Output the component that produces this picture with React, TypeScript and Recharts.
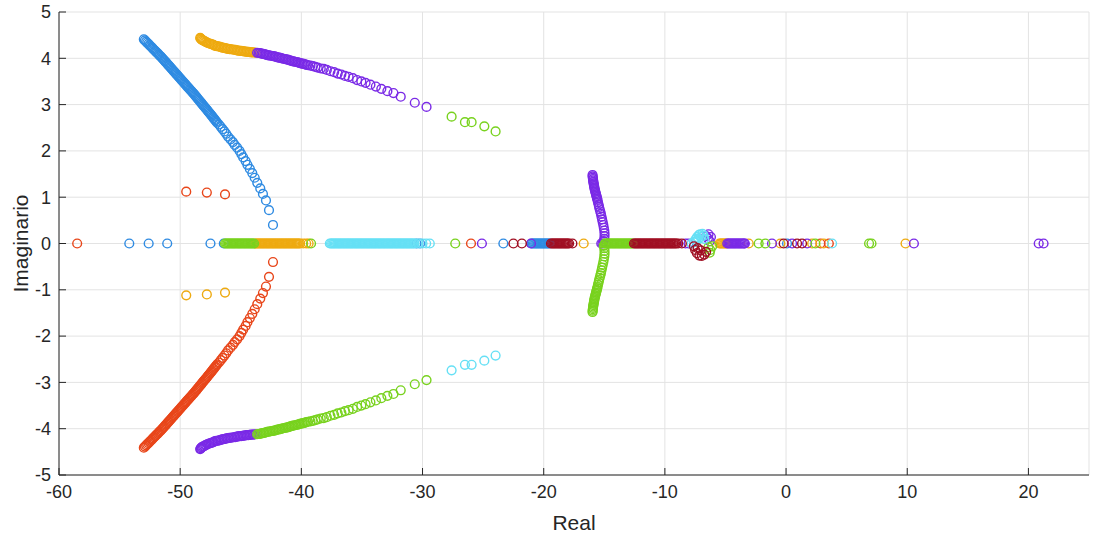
import { CartesianGrid, Label, Scatter, ScatterChart, XAxis, YAxis } from "recharts";

type Pt = [number, number];

const X_TICKS = [-60, -50, -40, -30, -20, -10, 0, 10, 20];
const Y_TICKS = [-5, -4, -3, -2, -1, 0, 1, 2, 3, 4, 5];

const BLUE = "#2F8BE2";
const RED = "#E8461A";
const YELLOW = "#EEAA10";
const PURPLE = "#7A2AE6";
const GREEN = "#78D21E";
const CYAN = "#66E0F5";
const DARKRED = "#A00F23";
const AXIS = "#262626";

// upper-left branch (blue) and its conjugate (red)
const blueArc: Pt[] = [
  [-53.0, 4.41], [-52.91, 4.385], [-52.81, 4.36], [-52.72, 4.335], [-52.62, 4.31], [-52.53, 4.285],
  [-52.44, 4.26], [-52.34, 4.235], [-52.25, 4.21], [-52.16, 4.185], [-52.06, 4.16], [-51.97, 4.135],
  [-51.87, 4.11], [-51.78, 4.085], [-51.69, 4.06], [-51.59, 4.035], [-51.5, 4.01], [-51.42, 3.985],
  [-51.33, 3.96], [-51.25, 3.935], [-51.16, 3.91], [-51.08, 3.885], [-50.99, 3.86], [-50.91, 3.835],
  [-50.82, 3.81], [-50.74, 3.785], [-50.66, 3.76], [-50.57, 3.735], [-50.49, 3.71], [-50.4, 3.685],
  [-50.32, 3.66], [-50.23, 3.635], [-50.15, 3.61], [-50.07, 3.585], [-49.98, 3.56], [-49.9, 3.535],
  [-49.81, 3.51], [-49.73, 3.485], [-49.64, 3.46], [-49.56, 3.435], [-49.48, 3.41], [-49.39, 3.385],
  [-49.31, 3.36], [-49.22, 3.335], [-49.14, 3.31], [-49.05, 3.285], [-48.97, 3.26], [-48.88, 3.235],
  [-48.8, 3.21], [-48.72, 3.185], [-48.64, 3.16], [-48.57, 3.135], [-48.49, 3.11], [-48.41, 3.085],
  [-48.33, 3.06], [-48.25, 3.035], [-48.18, 3.01], [-48.1, 2.985], [-48.02, 2.96], [-47.94, 2.935],
  [-47.86, 2.91], [-47.78, 2.885], [-47.71, 2.86], [-47.63, 2.835], [-47.55, 2.81], [-47.47, 2.785],
  [-47.4, 2.76], [-47.32, 2.735], [-47.25, 2.71], [-47.17, 2.685], [-47.1, 2.66], [-47.02, 2.635],
  [-46.95, 2.61], [-46.8, 2.57], [-46.65, 2.52], [-46.5, 2.47], [-46.35, 2.42], [-46.2, 2.37],
  [-46.05, 2.31], [-45.85, 2.25], [-45.65, 2.19], [-45.5, 2.13], [-45.3, 2.07], [-45.1, 2.0],
  [-44.95, 1.93], [-44.8, 1.86], [-44.6, 1.78], [-44.45, 1.7], [-44.25, 1.61], [-44.05, 1.52],
  [-43.85, 1.42], [-43.64, 1.31], [-43.39, 1.19], [-43.17, 1.07], [-42.92, 0.93], [-42.67, 0.72],
  [-42.34, 0.4],
];
const redArc: Pt[] = [
  [-53.0, -4.41], [-52.91, -4.385], [-52.81, -4.36], [-52.72, -4.335], [-52.62, -4.31], [-52.53, -4.285],
  [-52.44, -4.26], [-52.34, -4.235], [-52.25, -4.21], [-52.16, -4.185], [-52.06, -4.16], [-51.97, -4.135],
  [-51.87, -4.11], [-51.78, -4.085], [-51.69, -4.06], [-51.59, -4.035], [-51.5, -4.01], [-51.42, -3.985],
  [-51.33, -3.96], [-51.25, -3.935], [-51.16, -3.91], [-51.08, -3.885], [-50.99, -3.86], [-50.91, -3.835],
  [-50.82, -3.81], [-50.74, -3.785], [-50.66, -3.76], [-50.57, -3.735], [-50.49, -3.71], [-50.4, -3.685],
  [-50.32, -3.66], [-50.23, -3.635], [-50.15, -3.61], [-50.07, -3.585], [-49.98, -3.56], [-49.9, -3.535],
  [-49.81, -3.51], [-49.73, -3.485], [-49.64, -3.46], [-49.56, -3.435], [-49.48, -3.41], [-49.39, -3.385],
  [-49.31, -3.36], [-49.22, -3.335], [-49.14, -3.31], [-49.05, -3.285], [-48.97, -3.26], [-48.88, -3.235],
  [-48.8, -3.21], [-48.72, -3.185], [-48.64, -3.16], [-48.57, -3.135], [-48.49, -3.11], [-48.41, -3.085],
  [-48.33, -3.06], [-48.25, -3.035], [-48.18, -3.01], [-48.1, -2.985], [-48.02, -2.96], [-47.94, -2.935],
  [-47.86, -2.91], [-47.78, -2.885], [-47.71, -2.86], [-47.63, -2.835], [-47.55, -2.81], [-47.47, -2.785],
  [-47.4, -2.76], [-47.32, -2.735], [-47.25, -2.71], [-47.17, -2.685], [-47.1, -2.66], [-47.02, -2.635],
  [-46.95, -2.61], [-46.8, -2.57], [-46.65, -2.52], [-46.5, -2.47], [-46.35, -2.42], [-46.2, -2.37],
  [-46.05, -2.31], [-45.85, -2.25], [-45.65, -2.19], [-45.5, -2.13], [-45.3, -2.07], [-45.1, -2.0],
  [-44.95, -1.93], [-44.8, -1.86], [-44.6, -1.78], [-44.45, -1.7], [-44.25, -1.61], [-44.05, -1.52],
  [-43.85, -1.42], [-43.64, -1.31], [-43.39, -1.19], [-43.17, -1.07], [-42.92, -0.93], [-42.67, -0.72],
  [-42.34, -0.4],
];

// top band (yellow) / bottom band (purple)
const yellowTop: Pt[] = [
  [-48.35, 4.44], [-48.3, 4.425], [-48.25, 4.41], [-48.2, 4.4], [-48.12, 4.385], [-48.03, 4.375],
  [-47.94, 4.36], [-47.85, 4.35], [-47.73, 4.335], [-47.61, 4.32], [-47.49, 4.31], [-47.37, 4.3],
  [-47.25, 4.29], [-47.13, 4.27], [-47.01, 4.265], [-46.89, 4.26], [-46.77, 4.25], [-46.65, 4.24],
  [-46.53, 4.23], [-46.41, 4.225], [-46.29, 4.22], [-46.17, 4.21], [-46.05, 4.205], [-45.93, 4.2],
  [-45.81, 4.195], [-45.69, 4.19], [-45.57, 4.185], [-45.45, 4.18], [-45.33, 4.17], [-45.21, 4.165],
  [-45.09, 4.16], [-44.97, 4.16], [-44.85, 4.155], [-44.73, 4.15], [-44.61, 4.145], [-44.49, 4.14],
  [-44.37, 4.14], [-44.25, 4.135], [-44.13, 4.13], [-44.01, 4.13], [-43.89, 4.125], [-43.77, 4.12],
];
const purpleBottom: Pt[] = [
  [-48.35, -4.44], [-48.3, -4.425], [-48.25, -4.41], [-48.2, -4.4], [-48.12, -4.385], [-48.03, -4.375],
  [-47.94, -4.36], [-47.85, -4.35], [-47.73, -4.335], [-47.61, -4.32], [-47.49, -4.31], [-47.37, -4.3],
  [-47.25, -4.29], [-47.13, -4.27], [-47.01, -4.265], [-46.89, -4.26], [-46.77, -4.25], [-46.65, -4.24],
  [-46.53, -4.23], [-46.41, -4.225], [-46.29, -4.22], [-46.17, -4.21], [-46.05, -4.205], [-45.93, -4.2],
  [-45.81, -4.195], [-45.69, -4.19], [-45.57, -4.185], [-45.45, -4.18], [-45.33, -4.17], [-45.21, -4.165],
  [-45.09, -4.16], [-44.97, -4.16], [-44.85, -4.155], [-44.73, -4.15], [-44.61, -4.145], [-44.49, -4.14],
  [-44.37, -4.14], [-44.25, -4.135], [-44.13, -4.13], [-44.01, -4.13], [-43.89, -4.125], [-43.77, -4.12],
];

// long branch: purple above, green below
const purpleTop: Pt[] = [
  [-43.65, 4.12], [-43.53, 4.115], [-43.41, 4.11], [-43.29, 4.1], [-43.17, 4.095], [-43.05, 4.09],
  [-42.93, 4.08], [-42.81, 4.07], [-42.69, 4.065], [-42.57, 4.06], [-42.45, 4.05], [-42.33, 4.045],
  [-42.21, 4.04], [-42.09, 4.03], [-41.97, 4.02], [-41.85, 4.015], [-41.73, 4.01], [-41.61, 4.0],
  [-41.49, 3.99], [-41.37, 3.985], [-41.25, 3.975], [-41.13, 3.97], [-41.01, 3.96], [-40.89, 3.95],
  [-40.77, 3.94], [-40.65, 3.935], [-40.53, 3.925], [-40.41, 3.92], [-40.29, 3.91], [-40.17, 3.9],
  [-40.05, 3.89], [-39.93, 3.885], [-39.81, 3.88], [-39.69, 3.87], [-39.57, 3.86], [-39.45, 3.85],
  [-39.25, 3.84], [-39.05, 3.83], [-38.85, 3.815], [-38.65, 3.8], [-38.4, 3.78], [-38.15, 3.77],
  [-37.9, 3.75], [-37.6, 3.72], [-37.3, 3.7], [-37.0, 3.67], [-36.7, 3.65], [-36.4, 3.62],
  [-36.1, 3.6], [-35.75, 3.57], [-35.4, 3.53], [-35.05, 3.5], [-34.7, 3.47], [-34.3, 3.43],
  [-33.85, 3.39], [-33.4, 3.34], [-32.9, 3.29], [-32.4, 3.25], [-31.8, 3.17], [-30.64, 3.04],
  [-29.67, 2.95],
];
const greenBottom: Pt[] = [
  [-43.65, -4.12], [-43.53, -4.115], [-43.41, -4.11], [-43.29, -4.1], [-43.17, -4.095], [-43.05, -4.09],
  [-42.93, -4.08], [-42.81, -4.07], [-42.69, -4.065], [-42.57, -4.06], [-42.45, -4.05], [-42.33, -4.045],
  [-42.21, -4.04], [-42.09, -4.03], [-41.97, -4.02], [-41.85, -4.015], [-41.73, -4.01], [-41.61, -4.0],
  [-41.49, -3.99], [-41.37, -3.985], [-41.25, -3.975], [-41.13, -3.97], [-41.01, -3.96], [-40.89, -3.95],
  [-40.77, -3.94], [-40.65, -3.935], [-40.53, -3.925], [-40.41, -3.92], [-40.29, -3.91], [-40.17, -3.9],
  [-40.05, -3.89], [-39.93, -3.885], [-39.81, -3.88], [-39.69, -3.87], [-39.57, -3.86], [-39.45, -3.85],
  [-39.25, -3.84], [-39.05, -3.83], [-38.85, -3.815], [-38.65, -3.8], [-38.4, -3.78], [-38.15, -3.77],
  [-37.9, -3.75], [-37.6, -3.72], [-37.3, -3.7], [-37.0, -3.67], [-36.7, -3.65], [-36.4, -3.62],
  [-36.1, -3.6], [-35.75, -3.57], [-35.4, -3.53], [-35.05, -3.5], [-34.7, -3.47], [-34.3, -3.43],
  [-33.85, -3.39], [-33.4, -3.34], [-32.9, -3.29], [-32.4, -3.25], [-31.8, -3.17], [-30.64, -3.04],
  [-29.67, -2.95],
];

const greenTop: Pt[] = [[-27.6, 2.74], [-26.5, 2.62], [-25.95, 2.62], [-24.9, 2.53], [-23.97, 2.42]];
const cyanBottom: Pt[] = [[-27.6, -2.74], [-26.5, -2.62], [-25.95, -2.62], [-24.9, -2.53], [-23.97, -2.42]];
const redSmall: Pt[] = [[-49.5, 1.12], [-47.8, 1.1], [-46.3, 1.06]];
const yellowSmall: Pt[] = [[-49.5, -1.12], [-47.8, -1.1], [-46.3, -1.06]];

// branches leaving the axis near -15
const purpleMid: Pt[] = [
  [-15.97, 1.48], [-15.96, 1.45], [-15.95, 1.42], [-15.93, 1.39], [-15.92, 1.36], [-15.9, 1.33],
  [-15.88, 1.3], [-15.86, 1.27], [-15.84, 1.24], [-15.82, 1.21], [-15.8, 1.18], [-15.77, 1.15],
  [-15.74, 1.12], [-15.71, 1.09], [-15.68, 1.06], [-15.65, 1.03], [-15.62, 1.0], [-15.59, 0.97],
  [-15.56, 0.94], [-15.52, 0.89], [-15.47, 0.84], [-15.43, 0.79], [-15.38, 0.74], [-15.33, 0.69],
  [-15.28, 0.64], [-15.23, 0.58], [-15.18, 0.52], [-15.13, 0.46], [-15.08, 0.4], [-15.04, 0.34],
  [-15.0, 0.28], [-14.98, 0.22], [-14.98, 0.16], [-15.0, 0.1], [-15.05, 0.05],
];
const greenMid: Pt[] = [
  [-15.97, -1.48], [-15.96, -1.45], [-15.95, -1.42], [-15.93, -1.39], [-15.92, -1.36], [-15.9, -1.33],
  [-15.88, -1.3], [-15.86, -1.27], [-15.84, -1.24], [-15.82, -1.21], [-15.8, -1.18], [-15.77, -1.15],
  [-15.74, -1.12], [-15.71, -1.09], [-15.68, -1.06], [-15.65, -1.03], [-15.62, -1.0], [-15.59, -0.97],
  [-15.56, -0.94], [-15.52, -0.89], [-15.47, -0.84], [-15.43, -0.79], [-15.38, -0.74], [-15.33, -0.69],
  [-15.28, -0.64], [-15.23, -0.58], [-15.18, -0.52], [-15.13, -0.46], [-15.08, -0.4], [-15.04, -0.34],
  [-15.0, -0.28], [-14.98, -0.22], [-14.98, -0.16], [-15.0, -0.1], [-15.05, -0.05],
];

// small loop around -7
const cyanLoop: Pt[] = [
  [-7.8, 0], [-7.6, 0.03], [-7.5, 0.08], [-7.4, 0.05], [-7.35, 0.14], [-7.25, 0.1], [-7.2, 0.18],
  [-7.1, 0.2], [-7.0, 0.14], [-6.9, 0.21], [-6.8, 0.17], [-6.75, 0.1],
];
const darkredLoop: Pt[] = [
  [-7.6, -0.06], [-7.5, -0.14], [-7.35, -0.21], [-7.3, -0.1], [-7.15, -0.26], [-7.05, -0.15],
  [-6.95, -0.27], [-6.75, -0.24], [-6.6, -0.18],
];
const purpleLoop: Pt[] = [[-6.6, 0.16], [-6.45, 0.11], [-6.4, 0.2], [-6.3, 0.05], [-6.2, 0.14]];
const greenLoop: Pt[] = [[-6.4, -0.08], [-6.3, -0.2], [-6.25, -0.14], [-6.1, -0.06]];

// real roots (imaginary part 0)
const blueReal = [
  -54.2, -52.6, -51.07, -47.5, -46.4, -30.5, -30.2, -23.33,
  -21.0, -20.9, -20.8, -20.7, -20.6, -20.5, -20.4, -20.3, -20.2, -20.1, -20.0, -19.9, -19.8,
  -19.7, -19.6, -19.5, 0.08,
];
const redReal = [-58.5, -26.0, 2.84, 3.53];
const yellowReal = [
  -43.8, -43.7, -43.6, -43.5, -43.4, -43.3, -43.2, -43.1, -43.0, -42.9, -42.8, -42.7, -42.6,
  -42.5, -42.4, -42.3, -42.2, -42.1, -42.0, -41.9, -41.8, -41.7, -41.6, -41.5, -41.4, -41.3,
  -41.2, -41.1, -41.0, -40.9, -40.8, -40.7, -40.6, -40.5, -40.4, -40.3, -40.2, -40.1,
  -39.85, -39.6, -39.4, -16.7, -5.5, -5.4, -5.3, -5.2, -5.1, -5.0, -4.9, -3.08, -0.47, 2.15,
  3.11, 9.86,
];
const purpleReal = [
  -25.1, -21.05, -15.25, -15.15, -8.3, -8.05, -4.85, -4.75, -4.65, -4.55, -4.45, -4.35, -4.25,
  -4.15, -4.05, -3.95, -3.85, -3.75, -3.65, -3.55, -3.45, -3.4, -1.16, 0.5, 1.74, 10.55,
  20.85, 21.25,
];
const greenReal = [
  -46.3, -46.2, -46.1, -46.0, -45.9, -45.8, -45.7, -45.6, -45.5, -45.4, -45.3, -45.2, -45.1,
  -45.0, -44.9, -44.8, -44.7, -44.6, -44.5, -44.4, -44.3, -44.2, -44.1, -44.0, -43.9, -39.2,
  -27.3, -14.95, -14.85, -14.75, -14.65, -14.55, -14.45, -14.35, -14.25, -14.15, -14.05,
  -13.95, -13.85, -13.75, -13.65, -13.55, -13.45, -13.35, -13.25, -13.15, -13.05, -12.95,
  -12.85, -12.75, -12.65, -2.26, -1.71, 2.42, 6.85, 7.05,
];
const cyanReal = [
  -37.65, -37.55, -37.45, -37.35, -37.25, -37.15, -37.05, -36.95, -36.85, -36.75, -36.65,
  -36.55, -36.45, -36.35, -36.25, -36.15, -36.05, -35.95, -35.85, -35.75, -35.65, -35.55,
  -35.45, -35.35, -35.25, -35.15, -35.05, -34.95, -34.85, -34.75, -34.65, -34.55, -34.45,
  -34.35, -34.25, -34.15, -34.05, -33.95, -33.85, -33.75, -33.65, -33.55, -33.45, -33.35,
  -33.25, -33.15, -33.05, -32.95, -32.85, -32.75, -32.65, -32.55, -32.45, -32.35, -32.25,
  -32.15, -32.05, -31.95, -31.85, -31.75, -31.65, -31.55, -31.45, -31.35, -31.25, -31.15,
  -31.05, -30.95, -30.85, -30.75, -30.65, -30.35, -30.0, -29.7, -29.4, 3.8,
];
const darkredReal = [
  -22.5, -21.8, -19.4, -19.3, -19.2, -19.1, -19.0, -18.9, -18.8, -18.7, -18.6, -18.5, -18.4,
  -18.3, -18.2, -18.1, -18.0, -17.9, -17.63, -12.55, -12.45, -12.35, -12.25, -12.15, -12.05,
  -11.95, -11.85, -11.75, -11.65, -11.55, -11.45, -11.35, -11.25, -11.15, -11.05, -10.95,
  -10.85, -10.75, -10.65, -10.55, -10.45, -10.35, -10.25, -10.15, -10.05, -9.95, -9.85, -9.75,
  -9.65, -9.55, -9.45, -9.35, -9.25, -9.15, -9.05, -8.9, -8.6, -0.2, 0.91, 1.32,
];

const pts = (p: Pt[]) => p.map(([x, y]) => ({ x, y }));
const onAxis = (re: number[]) => re.map((x) => ({ x, y: 0 }));

const SERIES = [
  { name: "blue", color: BLUE, data: [...pts(blueArc), ...onAxis(blueReal)] },
  { name: "red", color: RED, data: [...pts(redArc), ...pts(redSmall), ...onAxis(redReal)] },
  { name: "yellow", color: YELLOW, data: [...pts(yellowTop), ...pts(yellowSmall), ...onAxis(yellowReal)] },
  { name: "purple", color: PURPLE, data: [...pts(purpleBottom), ...pts(purpleTop), ...pts(purpleMid), ...pts(purpleLoop), ...onAxis(purpleReal)] },
  { name: "green", color: GREEN, data: [...pts(greenBottom), ...pts(greenTop), ...pts(greenMid), ...pts(greenLoop), ...onAxis(greenReal)] },
  { name: "cyan", color: CYAN, data: [...pts(cyanBottom), ...pts(cyanLoop), ...onAxis(cyanReal)] },
  { name: "darkred", color: DARKRED, data: [...pts(darkredLoop), ...onAxis(darkredReal)] },
];

const ring = (color: string) => (props: any) => (
  <circle cx={props.cx} cy={props.cy} r={4.4} fill="none" stroke={color} strokeWidth={1.4} />
);

export default function App() {
  return (
    <div style={{ position: "absolute", left: 0, top: 0, background: "#fff", fontFamily: "'Liberation Sans', Arial, sans-serif" }}>
      <ScatterChart width={1093} height={535} margin={{ top: 12, right: 4, bottom: 0, left: 0 }}>
        <CartesianGrid stroke="#E3E3E3" />
        <XAxis
          type="number"
          dataKey="x"
          domain={[-60, 25]}
          ticks={X_TICKS}
          interval={0}
          height={60}
          tickSize={-7}
          tickMargin={17}
          axisLine={{ stroke: AXIS }}
          tickLine={{ stroke: AXIS }}
          tick={{ fill: AXIS, fontSize: 18 }}
        >
          <Label value="Real" position="insideBottom" offset={5} fill={AXIS} fontSize={21} />
        </XAxis>
        <XAxis
          xAxisId="top"
          orientation="top"
          type="number"
          domain={[-60, 25]}
          ticks={X_TICKS}
          interval={0}
          height={0}
          tickSize={-7}
          tick={false}
          axisLine={{ stroke: AXIS }}
          tickLine={{ stroke: AXIS }}
        />
        <YAxis
          type="number"
          dataKey="y"
          domain={[-5, 5]}
          ticks={Y_TICKS}
          interval={0}
          width={59}
          tickSize={-7}
          tickMargin={15}
          axisLine={{ stroke: AXIS }}
          tickLine={{ stroke: AXIS }}
          tick={{ fill: AXIS, fontSize: 18 }}
        >
          <Label
            value="Imaginario"
            angle={-90}
            position="insideLeft"
            offset={21}
            fill={AXIS}
            fontSize={21}
            style={{ textAnchor: "middle" }}
          />
        </YAxis>
        <YAxis
          yAxisId="right"
          orientation="right"
          type="number"
          domain={[-5, 5]}
          ticks={Y_TICKS}
          interval={0}
          width={0}
          tickSize={-7}
          tick={false}
          axisLine={{ stroke: AXIS }}
          tickLine={{ stroke: AXIS }}
        />
        {SERIES.map((s) => (
          <Scatter key={s.name} name={s.name} data={s.data} shape={ring(s.color)} isAnimationActive={false} />
        ))}
      </ScatterChart>
    </div>
  );
}
